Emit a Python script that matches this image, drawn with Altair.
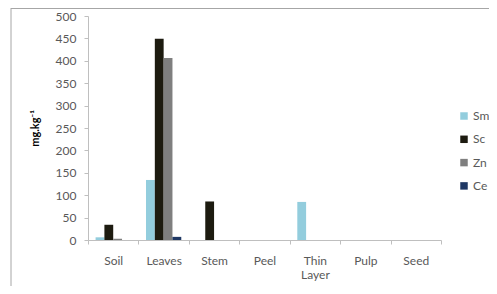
import altair as alt
import pandas as pd

categories = ["Soil", "Leaves", "Stem", "Peel", "Thin Layer", "Pulp", "Seed"]
series = ["Sm", "Sc", "Zn", "Ce"]
sm = [6, 134, 0, 0, 85, 0, 0]
sc = [34, 449, 86, 0, 0, 0, 0]
zn = [3, 406, 0, 0, 0, 0, 0]
ce = [0, 7, 0, 0, 0, 0, 0]
colors = ["#93CDDD", "#1D1B10", "#7F7F7F", "#1F3864"]
y_ticks = [0, 50, 100, 150, 200, 250, 300, 350, 400, 450, 500]

rows = []
for name, vals in zip(series, [sm, sc, zn, ce]):
    for c, v in zip(categories, vals):
        rows.append({"part": c, "element": name, "value": v})
df = pd.DataFrame(rows)

FONT = "Lato"

bars = alt.Chart(df).mark_bar().encode(
    x=alt.X("part:N", sort=categories, title=None,
            scale=alt.Scale(paddingInner=0, paddingOuter=0),
            axis=alt.Axis(labelAngle=0, tickBand="extent", tickSize=4,
                          tickColor="#BFBFBF", domainColor="#BFBFBF",
                          labelColor="#595959", labelFontSize=12, labelFont=FONT,
                          labelPadding=11,
                          labelExpr="split(datum.label, ' ')")),
    xOffset=alt.XOffset("element:N", sort=series,
                        scale=alt.Scale(paddingInner=0, paddingOuter=0.86)),
    y=alt.Y("value:Q", title="mg.kg⁻¹",
            scale=alt.Scale(domain=[0, 500], nice=False),
            axis=alt.Axis(values=y_ticks, grid=False, tickSize=4,
                          tickColor="#BFBFBF", domainColor="#BFBFBF",
                          labelColor="#595959", labelFontSize=12, labelFont=FONT,
                          labelPadding=8, titleFont=FONT, titleFontSize=11,
                          titleFontWeight="bold", titleColor="#000000",
                          titlePadding=15)),
    color=alt.Color("element:N", sort=series,
                    scale=alt.Scale(domain=series, range=colors),
                    legend=alt.Legend(title=None, orient="none", legendX=370,
                                      legendY=94, symbolType="square",
                                      symbolSize=56, symbolStrokeWidth=0,
                                      labelFont=FONT, labelFontSize=12,
                                      labelColor="#595959", rowPadding=11.3,
                                      labelOffset=3)),
)

frame_df = pd.DataFrame({"k": [0]})
frame_left = alt.Chart(frame_df).mark_rule(color="#A6A6A6", strokeWidth=1).encode(
    x=alt.value(-77), y=alt.value(-8), y2=alt.value(270))
frame_top = alt.Chart(frame_df).mark_rule(color="#A6A6A6", strokeWidth=1).encode(
    x=alt.value(-77), x2=alt.value(401), y=alt.value(-7.5))

chart = alt.layer(frame_left, frame_top, bars).properties(
    width=353, height=224,
    autosize=alt.AutoSizeParams(type="none"),
    padding={"left": 80, "top": 8, "right": 48, "bottom": 46},
    background="white",
).configure_view(stroke=None)

chart.save("out.html", embed_options={"renderer": "svg", "actions": False})
